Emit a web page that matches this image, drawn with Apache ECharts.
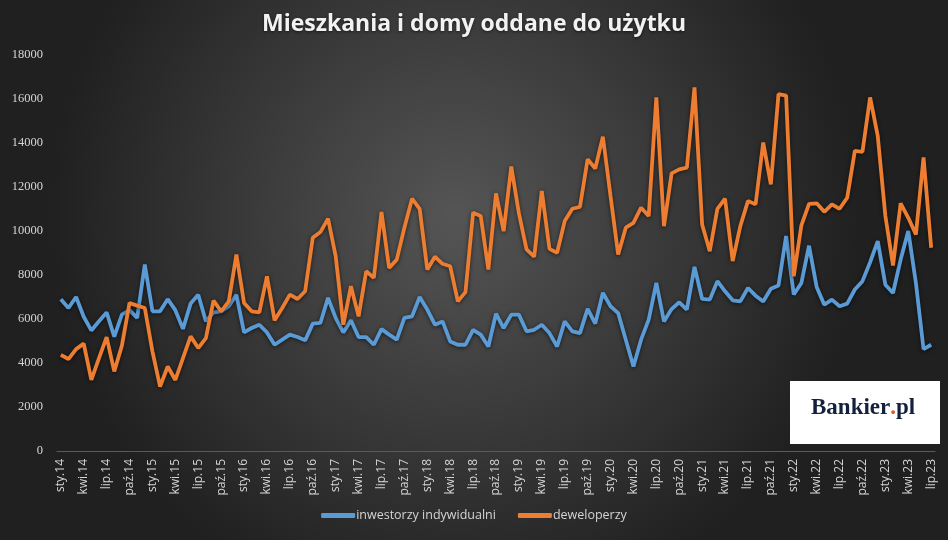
<!DOCTYPE html>
<html><head><meta charset="utf-8">
<script src="https://cdn.jsdelivr.net/npm/echarts@6/dist/echarts.min.js"></script>
<style>html,body{margin:0;padding:0;background:#333;}#c{width:948px;height:540px;}</style>
</head><body><div id="c"></div>
<script>
const monthNames = ['sty','lut','mar','kwi','maj','cze','lip','sie','wrz','paź','lis','gru'];
const years = ['14','15','16','17','18','19','20','21','22','23'];
const lastMonthCount = 7; // data ends lip.23

const inwestorzy = [
6900,6500,7000,6100,5480,5900,6300,5200,6200,6400,6050,8480,
6350,6350,6900,6400,5550,6700,7100,5900,6300,6350,6580,7100,
5390,5590,5740,5390,4830,5060,5290,5180,5030,5790,5820,6960,
6050,5390,5940,5180,5180,4830,5540,5290,5060,6050,6120,7000,
6430,5740,5890,4980,4830,4830,5510,5290,4750,6240,5590,6200,
6200,5440,5510,5740,5360,4750,5890,5440,5360,6460,5790,7190,
6580,6270,5060,3840,5060,5970,7640,5890,6450,6760,6430,8370,
6910,6880,7720,7260,6850,6800,7410,7060,6800,7370,7520,9770,
7110,7640,9330,7460,6650,6880,6580,6700,7340,7720,8580,9540,
7560,7180,8700,10000,7640,4630,4830
];
const deweloperzy = [
4370,4180,4630,4880,3230,4220,5180,3620,4790,6730,6610,6500,
4530,2930,3840,3230,4220,5210,4680,5130,6840,6350,6800,8930,
6730,6350,6300,7940,5940,6500,7110,6910,7260,9690,9950,10560,
8860,5740,7490,6120,8170,7870,10860,8320,8700,10150,11470,11010,
8250,8830,8510,8400,6800,7220,10830,10680,8250,11710,9990,12930,
10800,9160,8830,11820,9190,9010,10450,11010,11100,13260,12840,14290,
11590,8930,10150,10370,11060,10680,16070,10220,12620,12800,12880,16530,
10300,9080,11010,11470,8630,10220,11360,11210,14020,12120,16220,16150,
7940,10260,11230,11260,10870,11210,11010,11510,13640,13600,16070,14320,
10680,8430,11260,10600,9840,13340,9240
];
const yTicks = [0,2000,4000,6000,8000,10000,12000,14000,16000,18000];

const categories = [];
years.forEach((y, yi) => {
  const n = yi === years.length - 1 ? lastMonthCount : 12;
  for (let m = 0; m < n; m++) categories.push(monthNames[m] + '.' + y);
});

const chart = echarts.init(document.getElementById('c'));
chart.setOption({
  backgroundColor: {
    type: 'radial', x: 0.48, y: 0.4, r: 0.75,
    colorStops: [{offset: 0, color: '#555555'}, {offset: 1, color: '#202020'}]
  },
  animation: false,
  title: {
    text: 'Mieszkania i domy oddane do użytku',
    left: 'center', top: 8,
    textStyle: {color: '#f2f2f2', fontSize: 23, fontWeight: 'bold', fontFamily: 'Open Sans',
      textShadowColor: 'rgba(0,0,0,0.6)', textShadowBlur: 3, textShadowOffsetY: 1}
  },
  legend: {
    bottom: 13, left: 'center', itemWidth: 34, itemHeight: 5, itemGap: 22,
    icon: 'roundRect',
    textStyle: {color: '#d4d4d4', fontSize: 12.5, fontFamily: 'Open Sans', padding: [0, 0, 0, -4]},
    data: ['inwestorzy indywidualni', 'deweloperzy']
  },
  grid: {left: 57, right: 13, top: 55, bottom: 89},
  xAxis: {
    type: 'category', data: categories, boundaryGap: true,
    axisLine: {lineStyle: {color: '#5a5a5a'}},
    axisTick: {interval: 2, lineStyle: {color: '#5a5a5a'}, length: 4},
    axisLabel: {interval: 2, rotate: 90, color: '#d4d4d4', fontSize: 12, fontFamily: 'Open Sans', margin: 8}
  },
  yAxis: {
    type: 'value', min: yTicks[0], max: yTicks[yTicks.length - 1], interval: 2000,
    splitLine: {show: false},
    axisLine: {show: false}, axisTick: {show: false},
    axisLabel: {color: '#d4d4d4', fontSize: 12.5, fontFamily: 'Liberation Sans Narrow', margin: 14,
      formatter: v => String(v)}
  },
  series: [
    {name: 'inwestorzy indywidualni', type: 'line', data: inwestorzy, symbol: 'none',
     color: '#5B9BD5',
     lineStyle: {width: 3.8, color: '#5B9BD5', shadowColor: 'rgba(0,0,0,0.6)', shadowBlur: 4, shadowOffsetY: 1}},
    {name: 'deweloperzy', type: 'line', data: deweloperzy, symbol: 'none',
     color: '#ED7D31',
     lineStyle: {width: 3.8, color: '#ED7D31', shadowColor: 'rgba(0,0,0,0.6)', shadowBlur: 4, shadowOffsetY: 1}}
  ],
  graphic: [
    {type: 'rect', left: 790, top: 381, z: 100, shape: {width: 150, height: 63}, style: {fill: '#ffffff'}},
    {type: 'text', left: 811, top: 397, z: 101,
     style: {text: '{a|Bankier}{b|.}{a|pl}',
       rich: {
         a: {fill: '#14213d', fontSize: 23, fontWeight: 'bold', fontFamily: 'Liberation Serif'},
         b: {fill: '#e0582a', fontSize: 23, fontWeight: 'bold', fontFamily: 'Liberation Serif'}
       }}}
  ]
});
</script></body></html>
